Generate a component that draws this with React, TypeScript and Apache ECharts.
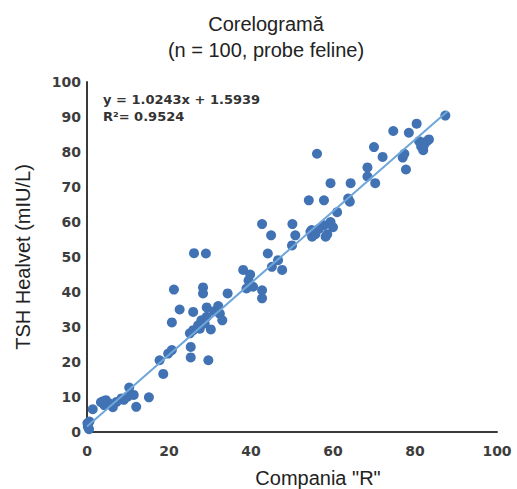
import React, { useEffect, useRef } from "react";
import * as echarts from "echarts";

// Paired TSH measurements: Compania "R" (x) vs. Healvet (y)
const companiaR = [
  0.2, 0.6, 0.1, 1.4, 3.4, 4.6, 4.2, 5.4, 6.3, 8.4,
  9.9, 10.3, 11.4, 12.0, 15.1, 18.6, 17.7, 19.8, 20.7, 25.3,
  25.3, 29.6, 20.7, 25.1, 25.9, 27.1, 27.9, 28.7, 29.2, 30.2,
  22.6, 25.9, 29.2, 32.0, 32.4, 33.0, 21.2, 28.3, 28.3, 34.3,
  26.1, 29.0, 38.1, 39.8, 39.4, 38.9, 42.7, 42.7, 44.1, 46.6,
  45.1, 47.6, 42.7, 44.9, 50.1, 50.8, 50.0, 54.8, 54.9, 55.7,
  57.8, 58.2, 58.6, 59.4, 61.0, 54.1, 57.8, 63.7, 64.1, 59.4,
  64.3, 70.3, 68.4, 68.4, 56.1, 70.0, 72.1, 77.8, 77.0, 77.4,
  74.7, 78.5, 80.4, 81.0, 82.9, 81.5, 82.0, 83.4, 87.4, 54.5,
  0.5, 4.0, 7.2, 9.0, 27.5, 31.0, 40.5, 56.5, 60.0, 82.2,
];
const healvet = [
  1.5, 3.0, 2.5, 6.5, 8.5, 9.1, 7.7, 8.2, 7.1, 9.6,
  10.1, 12.7, 10.6, 7.2, 9.9, 16.6, 20.5, 22.4, 23.4, 24.3,
  21.3, 20.5, 31.3, 28.2, 29.1, 30.5, 31.9, 31.0, 32.9, 29.3,
  35.0, 34.3, 35.6, 36.0, 33.8, 31.9, 40.7, 41.3, 39.6, 39.6,
  51.1, 51.0, 46.3, 45.0, 43.3, 41.0, 40.5, 38.2, 51.0, 49.1,
  47.2, 46.3, 59.4, 56.2, 59.4, 56.2, 53.3, 57.7, 55.8, 56.5,
  59.1, 55.8, 56.5, 60.0, 62.8, 66.2, 66.2, 66.7, 65.8, 71.1,
  71.1, 71.1, 73.0, 75.6, 79.5, 81.4, 78.6, 75.0, 78.4, 79.5,
  86.0, 85.5, 88.1, 83.1, 83.1, 81.6, 80.5, 83.6, 90.4, 57.2,
  0.8, 8.8, 8.6, 9.2, 29.5, 34.5, 41.5, 58.0, 58.5, 82.0,
];

// Linear trend fitted to the data
const slope = 1.0243;
const intercept = 1.5939;
const rSquared = 0.9524;
const trendRange = [0, 88];

const titleLines = ["Corelogramă", "(n = 100, probe feline)"];
const xName = 'Compania "R"';
const yName = "TSH Healvet (mIU/L)";

export default function App() {
  const ref = useRef<HTMLDivElement>(null);

  useEffect(() => {
    if (!ref.current) return;
    const chart = echarts.init(ref.current, null, { renderer: "svg" });
    const points = companiaR.map((x, i) => [x, healvet[i]]);
    const trend = trendRange.map((x) => [x, slope * x + intercept]);
    const tickLabel = {
      fontFamily: "DejaVu Sans",
      fontWeight: "bold" as const,
      fontSize: 14,
      color: "#3d3d3d",
    };

    chart.setOption({
      animation: false,
      backgroundColor: "#ffffff",
      title: {
        text: titleLines.join("\n"),
        left: 261,
        top: 6,
        textAlign: "center",
        textStyle: {
          fontFamily: "Liberation Sans",
          fontWeight: "normal",
          fontSize: 20,
          lineHeight: 26,
          color: "#222222",
        },
      },
      grid: {
        left: 87,
        right: 20,
        top: 82,
        bottom: 57,
        outerBoundsMode: "none",
      },
      xAxis: {
        type: "value",
        min: 0,
        max: 100,
        interval: 20,
        splitLine: { show: false },
        axisTick: { show: false },
        axisLine: { lineStyle: { color: "#3a3a3a", width: 2 } },
        axisLabel: { ...tickLabel, margin: 12 },
      },
      yAxis: {
        type: "value",
        min: 0,
        max: 100,
        interval: 10,
        splitLine: { show: false },
        axisTick: { show: false },
        axisLine: { show: true, lineStyle: { color: "#3a3a3a", width: 2 } },
        axisLabel: { ...tickLabel, margin: 6 },
      },
      graphic: [
        {
          type: "text",
          left: 103,
          top: 91,
          style: {
            text: `y = ${slope}x + ${intercept}\nR²= ${rSquared}`,
            font: "bold 13px 'DejaVu Sans'",
            lineHeight: 17,
            fill: "#333333",
          },
        },
        {
          type: "text",
          x: 318,
          y: 478,
          style: {
            text: xName,
            font: "20px 'Liberation Sans'",
            fill: "#222222",
            align: "center",
            verticalAlign: "middle",
          },
        },
        {
          type: "text",
          x: 23,
          y: 257,
          rotation: Math.PI / 2,
          style: {
            text: yName,
            font: "20px 'Liberation Sans'",
            fill: "#222222",
            align: "center",
            verticalAlign: "middle",
          },
        },
      ],
      series: [
        {
          type: "scatter",
          data: points,
          symbolSize: 10,
          itemStyle: { color: "#4172b3", opacity: 1 },
          z: 2,
        },
        {
          type: "line",
          data: trend,
          showSymbol: false,
          symbol: "none",
          lineStyle: { color: "#6ea6da", width: 2 },
          z: 3,
        },
      ],
    });

    return () => chart.dispose();
  }, []);

  return (
    <div
      ref={ref}
      style={{ position: "fixed", left: 0, top: 0, width: 517, height: 489 }}
    />
  );
}
